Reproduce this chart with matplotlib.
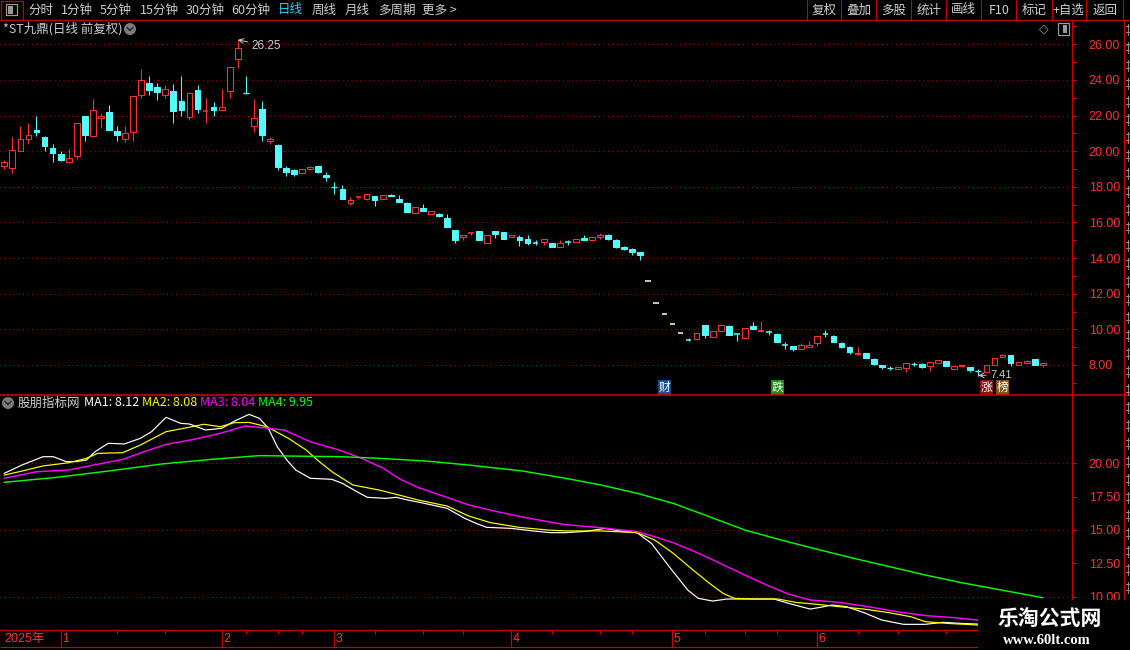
import matplotlib
matplotlib.use("Agg")
import matplotlib.pyplot as plt
from matplotlib.patches import Rectangle, Circle
import matplotlib.transforms as mtransforms

plt.rcParams['font.family'] = ['Noto Sans CJK SC', 'DejaVu Sans']

# ---------------- data ----------------
opens = [19.15, 19.06, 19.99, 20.66, 21.20, 20.81, 20.20, 19.86, 19.40, 19.71,
         21.99, 20.85, 21.84, 22.20, 21.13, 20.66, 21.08, 23.13, 23.84, 23.61,
         23.18, 23.39, 22.79, 21.92, 23.45, 22.22, 22.49, 22.29, 23.37, 25.20,
         23.29, 21.39, 22.36, 20.60, 20.36, 19.08, 18.95, 18.76, 18.98, 19.19,
         18.68, 18.00, 17.90, 17.08, 17.42, 17.30, 17.51, 17.30, 17.56, 17.34,
         17.11, 16.54, 16.83, 16.48, 16.50, 16.26, 15.60, 15.19, 15.41, 15.53,
         14.87, 15.53, 15.47, 15.17, 15.19, 15.10, 14.84, 14.89, 14.87, 14.61,
         14.90, 14.89, 15.15, 15.03, 15.17, 15.32, 15.04, 14.63, 14.50, 14.37,
         12.74, 11.46, 10.88, 10.32, 9.80, 9.41, 9.47, 10.24, 9.59, 9.92,
         10.18, 9.73, 9.53, 10.18, 9.88, 9.84, 9.74, 9.15, 9.06, 8.88,
         9.02, 9.25, 9.75, 9.62, 9.23, 9.01, 8.60, 8.67, 8.34, 8.00,
         7.84, 7.79, 7.82, 8.07, 8.04, 7.96, 8.13, 8.21, 7.76, 7.91,
         7.89, 7.66, 7.59, 7.98, 8.43, 8.56, 7.98, 8.13, 8.34, 7.98]
highs = [19.52, 20.80, 21.43, 21.60, 21.99, 20.87, 20.42, 20.03, 20.12, 21.58,
         21.99, 22.92, 22.16, 22.61, 21.43, 21.43, 23.09, 24.61, 24.23, 23.84,
         23.71, 23.78, 24.23, 23.33, 23.73, 23.00, 22.77, 23.50, 24.73, 26.25,
         24.23, 22.92, 22.83, 20.80, 20.42, 19.19, 19.02, 19.02, 19.19, 19.19,
         18.85, 18.29, 18.12, 17.45, 17.44, 17.60, 17.51, 17.55, 17.62, 17.56,
         17.17, 16.87, 17.06, 16.67, 16.55, 16.48, 15.60, 15.32, 15.49, 15.53,
         15.31, 15.53, 15.47, 15.27, 15.32, 15.27, 14.99, 15.10, 14.87, 15.04,
         15.04, 15.10, 15.27, 15.21, 15.43, 15.38, 15.10, 14.70, 14.55, 14.37,
         12.74, 11.46, 10.88, 10.32, 9.80, 9.51, 9.78, 10.24, 9.90, 10.30,
         10.24, 9.81, 10.06, 10.41, 10.47, 9.96, 9.78, 9.27, 9.06, 9.22,
         9.34, 9.61, 9.96, 9.68, 9.29, 9.06, 8.99, 8.67, 8.39, 8.00,
         7.94, 7.89, 8.10, 8.17, 8.11, 8.18, 8.26, 8.21, 7.93, 7.98,
         7.89, 7.76, 8.00, 8.39, 8.62, 8.56, 8.17, 8.28, 8.34, 8.11]
lows = [19.02, 18.76, 19.99, 20.42, 20.83, 19.99, 19.37, 19.43, 19.32, 19.58,
        20.55, 20.85, 21.33, 21.19, 20.55, 20.49, 20.55, 23.01, 23.18, 22.85,
        23.01, 21.61, 21.95, 21.73, 22.14, 21.61, 21.99, 22.29, 22.96, 24.69,
        23.28, 21.05, 20.55, 20.38, 18.96, 18.63, 18.63, 18.74, 18.92, 18.76,
        18.35, 17.62, 17.34, 17.00, 17.34, 17.24, 16.95, 17.30, 17.47, 17.13,
        16.57, 16.54, 16.63, 16.48, 16.29, 15.73, 14.86, 15.00, 15.32, 14.99,
        14.83, 15.11, 15.06, 15.17, 14.67, 14.76, 14.72, 14.72, 14.61, 14.61,
        14.72, 14.89, 15.04, 14.95, 15.10, 15.04, 14.59, 14.44, 14.20, 13.92,
        12.74, 11.46, 10.88, 10.32, 9.80, 9.34, 9.40, 9.51, 9.59, 9.92,
        9.68, 9.36, 9.53, 10.02, 9.87, 9.70, 9.31, 8.88, 8.80, 8.88,
        9.02, 9.08, 9.55, 9.29, 8.97, 8.62, 8.54, 8.41, 8.02, 7.76,
        7.74, 7.79, 7.63, 7.96, 7.85, 7.68, 8.13, 7.96, 7.76, 7.89,
        7.63, 7.41, 7.59, 7.98, 8.43, 7.96, 7.98, 8.13, 8.02, 7.91]
closes = [19.39, 20.07, 20.68, 20.91, 21.05, 20.27, 19.88, 19.52, 19.62, 21.58,
          20.89, 22.31, 21.99, 21.19, 20.89, 21.02, 23.09, 23.99, 23.41, 23.33,
          23.48, 22.23, 22.32, 23.26, 22.38, 22.24, 22.34, 22.48, 24.73, 25.78,
          23.28, 21.86, 20.89, 20.68, 19.09, 18.85, 18.70, 19.00, 19.13, 18.81,
          18.53, 17.99, 17.34, 17.28, 17.44, 17.60, 17.28, 17.55, 17.47, 17.13,
          16.57, 16.87, 16.63, 16.67, 16.35, 15.73, 15.00, 15.32, 15.43, 15.04,
          15.31, 15.34, 15.06, 15.27, 15.00, 14.87, 14.82, 15.10, 14.61, 14.85,
          14.88, 15.10, 15.04, 15.21, 15.32, 15.10, 14.65, 14.50, 14.37, 14.16,
          12.74, 11.46, 10.88, 10.32, 9.80, 9.39, 9.78, 9.68, 9.90, 10.24,
          9.68, 9.71, 10.06, 10.02, 9.93, 9.82, 9.31, 9.13, 8.91, 9.10,
          9.12, 9.61, 9.73, 9.29, 9.03, 8.73, 8.69, 8.41, 8.06, 7.91,
          7.83, 7.89, 8.10, 8.06, 7.91, 8.18, 8.26, 7.96, 7.93, 7.96,
          7.72, 7.65, 8.00, 8.39, 8.56, 8.13, 8.17, 8.22, 8.02, 8.11]

# indicator lines (MA1..MA4) read at positions along the candle axis
ma1_x = [0, 2.2, 4.8, 6.1, 7.7, 8.9, 10.2, 11.3, 12.9, 14.9, 16.9, 18.3, 20.1, 21.9, 23, 25, 27,
         28.6, 30.4, 31.7, 32.8, 33.9, 35.1, 36.2, 38, 40.7, 42, 43.8, 45.1, 47.4, 48.7, 50.1,
         51.8, 55, 57.2, 58.6, 59.9, 63, 65.7, 67.9, 69.7, 72.3, 74.6, 76.8, 78.6, 80.4, 82.6,
         84.9, 86.2, 88, 89.8, 92, 95.6, 97.4, 100.1, 101.4, 102.8, 104.6, 106.8, 109, 111.7,
         114.4, 116.6, 118.9, 120.9, 129]
ma1_v = [19.23, 19.85, 20.47, 20.47, 20.10, 20.10, 20.22, 20.85, 21.47, 21.42, 21.84, 22.34,
         23.41, 22.96, 22.91, 22.46, 22.59, 23.13, 23.63, 23.33, 22.59, 21.22, 20.22, 19.48,
         18.86, 18.78, 18.48, 17.86, 17.44, 17.36, 17.44, 17.24, 17.04, 16.62, 15.87, 15.50,
         15.20, 15.12, 14.93, 14.80, 14.80, 14.90, 15.12, 14.90, 14.80, 14.00, 12.26, 10.52,
         9.90, 9.70, 9.85, 9.85, 9.85, 9.53, 9.10, 9.23, 9.40, 9.28, 8.83, 8.28, 7.96, 7.96,
         8.11, 8.03, 7.98, 8.12]
ma2_x = [0, 2.2, 4.8, 8, 10.2, 11.6, 14.7, 16.9, 20.1, 22.3, 24.8, 26.8, 28.6, 30.4, 32.6, 35.3,
         37.5, 38.9, 40.7, 43.3, 46.5, 48.7, 51.4, 55, 57.7, 60.4, 63.9, 67.5, 69.7, 74.1, 78.6,
         80.8, 83.1, 85.3, 87.6, 89.3, 90.7, 92.9, 96.1, 98.3, 101, 103.7, 106.8, 109.9, 112.6,
         114.4, 117.1, 120.9, 129]
ma2_v = [19.10, 19.40, 19.78, 20.02, 20.35, 20.72, 20.77, 21.34, 22.34, 22.59, 22.89, 22.71,
         23.01, 23.03, 22.71, 21.84, 20.97, 20.22, 19.35, 18.36, 17.99, 17.66, 17.24, 16.79,
         16.04, 15.55, 15.20, 15.00, 14.93, 14.93, 14.80, 14.25, 13.26, 12.14, 11.02, 10.27,
         9.90, 9.85, 9.85, 9.60, 9.45, 9.28, 9.10, 8.83, 8.53, 8.16, 8.03, 7.91, 8.08]
ma3_x = [0, 4, 8, 11.1, 14.7, 17.4, 20.1, 23.6, 26.8, 29.9, 31.7, 34.8, 38, 41.6, 44.4, 47.1,
         49.2, 51.4, 54.5, 57.7, 61.2, 64.8, 69.5, 74.1, 78.6, 80.8, 83.1, 85.3, 87.6, 89.8, 92,
         94.7, 97.4, 100.1, 103.7, 107.3, 110.8, 114.4, 118, 120.9, 129]
ma3_v = [18.86, 19.35, 19.48, 19.85, 20.27, 20.85, 21.39, 21.77, 22.21, 22.76, 22.66, 22.46,
         21.59, 20.97, 20.35, 19.60, 18.78, 18.18, 17.54, 16.87, 16.37, 15.92, 15.41, 15.17,
         14.88, 14.50, 14.05, 13.51, 12.89, 12.26, 11.64, 10.90, 10.22, 9.78, 9.60, 9.28, 8.91,
         8.61, 8.46, 8.28, 8.04]
ma4_x = [0, 6.2, 12.9, 19.6, 26.3, 31.7, 35.3, 42, 46.5, 52.3, 57.7, 64.4, 69.7, 74.1, 78.6,
         83.1, 87.6, 92, 96.5, 101, 105.5, 110, 114.4, 118.9, 123.4, 129]
ma4_v = [18.56, 18.91, 19.40, 19.93, 20.30, 20.55, 20.52, 20.47, 20.35, 20.15, 19.85, 19.40,
         18.86, 18.36, 17.74, 16.99, 15.99, 15.00, 14.25, 13.56, 12.89, 12.26, 11.64, 11.07,
         10.57, 9.95]
ma_names = ['MA1', 'MA2', 'MA3', 'MA4']
ma_last = [8.12, 8.08, 8.04, 9.95]

price_ticks = [8, 10, 12, 14, 16, 18, 20, 22, 24, 26]
price_minor = [7, 9, 11, 13, 15, 17, 19, 21, 23, 25, 27]
ind_ticks = [10, 12.5, 15, 17.5, 20]
ind_grid = [10, 15, 20]

month_labels = ['1', '2', '3', '4', '5', '6']
month_idx = [7, 27, 41, 63, 83, 101]
week_idx = [14, 20, 30, 34, 37, 46, 52, 57, 68, 74, 78, 87, 92, 96, 106, 111, 117]

event_labels = ['财', '跌', '涨', '榜']
event_idx = [82, 96, 122, 124]
event_colors = ['#1f4e8c', '#1e8a1e', '#8c1212', '#8c5212']

hi_idx, hi_val = 29, 26.25
lo_idx, lo_val = 121, 7.41

menu_items = ['分时', '1分钟', '5分钟', '15分钟', '30分钟', '60分钟', '日线', '周线', '月线', '多周期', '更多 >']
menu_x = [28, 61, 100, 140, 185.5, 231.5, 278, 312, 345, 378, 422]
btn_items = ['复权', '叠加', '多股', '统计', '画线', 'F10', '标记', '+自选', '返回']
btn_edges = [807.2, 841.4, 876.4, 911.3, 946.3, 981.2, 1016.2, 1051.5, 1086.4, 1122.8]

# ---------------- styles ----------------
W, H = 1130, 650
RED = '#ff3232'
CYAN = '#54fcfc'
AXRED = '#c80000'
GRID = '#b40000'
GRAY = '#cfcfcf'
PX = 0.72  # one pixel in points
STEP, X0 = 8.05, 4.3
XL = ((0 - X0) / STEP, (1072 - X0) / STEP)

fig = plt.figure(figsize=(W / 100, H / 100), dpi=100, facecolor='black')


def fy(py):
    return 1 - py / H


# ---------------- main price panel ----------------
ax = fig.add_axes([0, fy(395), 1072 / W, (395 - 20) / H])
ax.set_facecolor('black')
ax.set_xlim(*XL)
ax.set_ylim(6.316, 27.364)
for s in ax.spines.values():
    s.set_visible(False)
ax.xaxis.set_visible(False)
ax.yaxis.tick_right()
ax.set_yticks(price_ticks)
ax.set_yticklabels([f'{v:.2f}' for v in price_ticks])
ax.set_yticks(price_minor, minor=True)
ax.tick_params(axis='y', which='both', direction='out', length=3, width=PX,
               color=AXRED, labelcolor=RED, labelsize=9, pad=9,
               labelfontfamily='Liberation Sans')
for v in price_ticks:
    ax.axhline(v, color=GRID, lw=PX, ls=(0, (1, 3.5)), zorder=1)

bw = 0.72
for i in range(len(closes)):
    o, h, l, c = opens[i], highs[i], lows[i], closes[i]
    if h - l < 1e-9:
        ax.hlines(c, i - bw / 2, i + bw / 2, color='white', lw=1.1, zorder=3)
        continue
    up = c >= o
    col = RED if up else CYAN
    ax.vlines(i, l, h, color=col, lw=PX * 1.05, zorder=2)
    lo, hi = min(o, c), max(o, c)
    if hi - lo < 0.06:
        ax.hlines((lo + hi) / 2, i - bw / 2, i + bw / 2, color=col,
                  lw=PX * (1.2 + (hi - lo) * 17.8), zorder=3)
    else:
        ax.add_patch(Rectangle((i - bw / 2, lo), bw, hi - lo,
                               facecolor='black' if up else col,
                               edgecolor=col, lw=PX * 1.05, zorder=3))

# high / low annotations
ax.annotate(f'{hi_val:.2f}', xy=(hi_idx, hi_val), xytext=(14, -6),
            textcoords='offset pixels', ha='left', va='center', color=GRAY,
            fontsize=8.5, fontfamily='Liberation Sans',
            arrowprops=dict(arrowstyle='->', color=GRAY, lw=0.7,
                            shrinkA=1, shrinkB=0), zorder=5)
ax.annotate(f'{lo_val:.2f}', xy=(lo_idx, lo_val), xytext=(12, 1),
            textcoords='offset pixels', ha='left', va='center', color=GRAY,
            fontsize=8, fontfamily='Liberation Sans',
            arrowprops=dict(arrowstyle='->', color=GRAY, lw=0.7,
                            shrinkA=1, shrinkB=0), zorder=5)

# event markers
trans_ev = mtransforms.blended_transform_factory(ax.transData, ax.transAxes)
for lab, xi, colr in zip(event_labels, event_idx, event_colors):
    ax.text(xi, 0.02, lab, transform=trans_ev, ha='center', va='center',
            color='white', fontsize=8.5, zorder=6,
            bbox=dict(boxstyle='square,pad=0.06', fc=colr, ec='none'))

# ---------------- indicator panel ----------------
ax2 = fig.add_axes([0, fy(630), 1072 / W, (630 - 395) / H])
ax2.set_facecolor('black')
ax2.set_xlim(*XL)
ax2.set_ylim(7.537, 25.075)
for s in ax2.spines.values():
    s.set_visible(False)
ax2.xaxis.set_visible(False)
ax2.yaxis.tick_right()
ax2.set_yticks(ind_ticks)
ax2.set_yticklabels([f'{v:.2f}' for v in ind_ticks])
ax2.tick_params(axis='y', direction='out', length=3, width=PX, color=AXRED,
                labelcolor=RED, labelsize=9, pad=9, labelfontfamily='Liberation Sans')
for v in ind_grid:
    ax2.axhline(v, color=GRID, lw=PX, ls=(0, (1, 3.5)), zorder=1)
ma_colors = ['#ffffff', '#ffff00', '#ff00ff', '#00ff00']
for xs, vs, colr, lw in zip([ma1_x, ma2_x, ma3_x, ma4_x], [ma1_v, ma2_v, ma3_v, ma4_v],
                            ma_colors, [1.0, 1.0, 1.2, 1.2]):
    ax2.plot(xs, vs, color=colr, lw=lw * PX * 1.2, zorder=3)

# ---------------- date strip ----------------
ax3 = fig.add_axes([0, fy(647), 1072 / W, 17 / H])
ax3.set_facecolor('black')
ax3.set_xlim(*XL)
ax3.set_ylim(0, 1)
ax3.axis('off')
ax3.vlines(month_idx, 0, 1, color=AXRED, lw=PX * 1.2)
ax3.vlines(week_idx, 0.75, 1, color=AXRED, lw=PX)
for lab, xi in zip(month_labels, month_idx):
    ax3.text(xi + 0.15, 0.45, lab, color=RED, fontsize=9, ha='left', va='center',
             fontfamily=['Liberation Sans', 'Noto Sans CJK SC'])
ax3.text(4 / 1072, 0.45, '2025年', transform=ax3.transAxes, color=RED, fontsize=9,
         ha='left', va='center', fontfamily=['Liberation Sans', 'Noto Sans CJK SC'])

# ---------------- overlay (frame, toolbar, headers) ----------------
ov = fig.add_axes([0, 0, 1, 1])
ov.set_xlim(0, W)
ov.set_ylim(H, 0)
ov.axis('off')
ov.patch.set_alpha(0)


def hline(y, x0, x1, lw=1.0, c=AXRED):
    ov.plot([x0, x1], [y, y], color=c, lw=lw * PX, solid_capstyle='butt')


def vline(x, y0, y1, lw=1.0, c=AXRED):
    ov.plot([x, x], [y0, y1], color=c, lw=lw * PX, solid_capstyle='butt')


hline(19.5, 0, W, 1.3)
hline(394.5, 0, W, 1.6)
hline(630, 0, W, 1.4)
hline(647, 0, W, 1.2)
vline(1072, 19.5, H, 1.3)
vline(1124, 19.5, H, 1.3)
hline(45, 1124, W, 1.0)
hline(142, 1124, W, 1.0)

# toolbar left icon
ov.add_patch(Rectangle((0.5, 0.5), 22, 19, fill=False, ec=AXRED, lw=1.2 * PX))
ov.add_patch(Rectangle((6, 4), 11, 11, fill=False, ec='#9a9a9a', lw=1.2 * PX))
ov.add_patch(Rectangle((7.5, 5.5), 5, 8, fc='#9a9a9a', ec='none'))
for t, x in zip(menu_items, menu_x):
    ov.text(x, 10, t, color=('#33d0ee' if t == '日线' else GRAY), fontsize=9,
            ha='left', va='center')
for k, t in enumerate(btn_items):
    cx = (btn_edges[k] + btn_edges[k + 1]) / 2
    ov.text(cx, 10, t, color=GRAY, fontsize=9, ha='center', va='center')
for e in btn_edges:
    vline(e, 0, 19.5, 1.0)

# title
ov.text(3, 29, '*ST九鼎(日线 前复权)', color=GRAY, fontsize=9, ha='left', va='center')
ov.add_patch(Circle((130, 29), 6, fc='#7c7c7c', ec='none'))
ov.plot([127, 130, 133], [27.5, 30.5, 27.5], color='#1e1e1e', lw=1.3 * PX)
ov.text(1044, 29, '◇', color='#9a9a9a', fontsize=9, ha='center', va='center',
        fontfamily='DejaVu Sans')
ov.add_patch(Rectangle((1057.5, 23), 11, 12, fill=False, ec='#9a9a9a', lw=1.2 * PX))
ov.add_patch(Rectangle((1063, 25), 4, 8, fc='#9a9a9a', ec='none'))

# indicator header
ov.add_patch(Circle((8, 403), 6, fc='#7c7c7c', ec='none'))
ov.plot([5, 8, 11], [401.5, 404.5, 401.5], color='#1e1e1e', lw=1.3 * PX)
ov.text(18, 403, '股朋指标网', color=GRAY, fontsize=9, ha='left', va='center')
for name, val, colr, x in zip(ma_names, ma_last, ma_colors, [83.5, 141.5, 200, 257.5]):
    ov.text(x, 403, f'{name}: {val:.2f}', color=colr, fontsize=9, ha='left', va='center')

# far-right side panel: only its left edge is visible (glyph fragments)
for k in range(33):
    yy = 30 + k * 18
    ov.plot([1126, 1130], [yy - 4, yy - 4], color='#8a8a8a', lw=PX)
    ov.plot([1127.5, 1127.5], [yy - 6, yy + 5], color='#8a8a8a', lw=PX)
    ov.plot([1126, 1130], [yy + 2, yy + 2], color='#8a8a8a', lw=PX)

# watermark
ov.add_patch(Rectangle((978, 600), W - 978, H - 600, fc='black', ec='none', zorder=10))
ov.text(1050, 618, '乐淘公式网', color='white', fontsize=15, fontweight='bold',
        ha='center', va='center', zorder=11)
ov.text(1047, 640, 'www.60lt.com', color='white', fontsize=10.5, fontweight='bold',
        fontfamily='Liberation Serif', ha='center', va='center', zorder=11)

fig.savefig('out.png', dpi=100, facecolor='black')
